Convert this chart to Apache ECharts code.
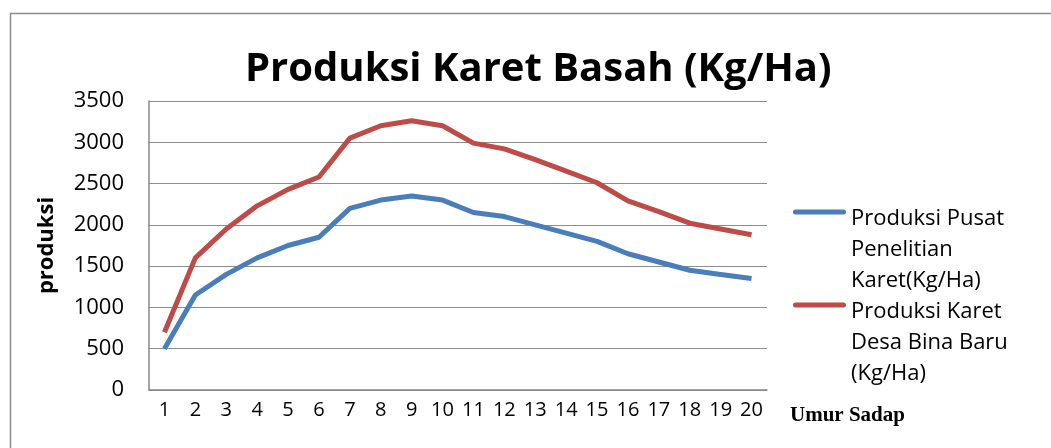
<!DOCTYPE html>
<html>
<head>
<meta charset="utf-8">
<script src="https://cdn.jsdelivr.net/npm/echarts@6/dist/echarts.min.js"></script>
<style>
  html, body { margin: 0; padding: 0; background: #fff; }
  #chart { width: 1051px; height: 448px; }
</style>
</head>
<body>
<div id="chart"></div>
<script>
const umurSadap = ['1', '2', '3', '4', '5', '6', '7', '8', '9', '10', '11', '12', '13', '14', '15', '16', '17', '18', '19', '20']
const pusatPenelitian = [500, 1150, 1400, 1600, 1750, 1850, 2200, 2300, 2350, 2300, 2150, 2100, 2000, 1900, 1800, 1650, 1550, 1450, 1400, 1350]
const desaBinaBaru = [700, 1600, 1950, 2230, 2430, 2580, 3050, 3200, 3260, 3200, 2990, 2920, 2790, 2650, 2510, 2290, 2160, 2020, 1950, 1880]
const seriesNames = ['Produksi Pusat Penelitian Karet(Kg/Ha)', 'Produksi Karet Desa Bina Baru (Kg/Ha)']
const legendLines = {
  'Produksi Pusat Penelitian Karet(Kg/Ha)': 'Produksi Pusat\nPenelitian\nKaret(Kg/Ha)',
  'Produksi Karet Desa Bina Baru (Kg/Ha)': 'Produksi Karet\nDesa Bina Baru\n(Kg/Ha)'
}

const font = '"Open Sans", "Noto Sans", sans-serif'
const chart = echarts.init(document.getElementById('chart'))

// legend icon: line sits on the first text line, box spans all three lines
const iconPath = 'path://M2.5,13H50.5A2.5,2.5 0 0 1 50.5,18H2.5A2.5,2.5 0 0 1 2.5,13Z M0,93H0.01V93.01H0Z'

chart.setOption({
  animation: false,
  title: {
    text: 'Produksi Karet Basah (Kg/Ha)',
    left: 240,
    top: 45,
    textStyle: { fontFamily: font, fontWeight: 'bold', fontSize: 40, color: '#000' }
  },
  legend: {
    orient: 'vertical',
    left: 788,
    top: 198,
    itemGap: 0,
    itemWidth: 53,
    itemHeight: 93,
    icon: iconPath,
    formatter: (name) => legendLines[name],
    textStyle: { fontFamily: font, fontSize: 22, lineHeight: 31, color: '#000' }
  },
  grid: { left: 149, top: 101, right: 284, bottom: 58 },
  xAxis: {
    type: 'category',
    data: umurSadap,
    name: 'Umur Sadap',
    nameLocation: 'end',
    nameGap: 23,
    nameTextStyle: {
      fontFamily: '"Liberation Serif", serif',
      fontWeight: 'bold',
      fontSize: 21,
      color: '#000',
      verticalAlign: 'top',
      padding: [15, 0, 0, 0]
    },
    axisLine: { lineStyle: { color: '#888', width: 1.5 } },
    axisTick: { show: false },
    axisLabel: { fontFamily: font, fontSize: 20, color: '#000', margin: 10, interval: 0 }
  },
  yAxis: {
    type: 'value',
    min: 0,
    max: 3500,
    interval: 500,
    name: 'produksi',
    nameLocation: 'middle',
    nameGap: 91,
    nameTextStyle: { fontFamily: font, fontWeight: 'bold', fontSize: 22, color: '#000' },
    axisLine: { show: true, lineStyle: { color: '#888', width: 1.5 } },
    axisTick: { show: false },
    axisLabel: { fontFamily: font, fontSize: 22, color: '#000', margin: 25, formatter: (v) => String(v) },
    splitLine: { lineStyle: { color: '#8c8c8c', width: 1 } }
  },
  series: [
    {
      name: seriesNames[0],
      type: 'line',
      data: pusatPenelitian,
      symbol: 'none',
      color: '#4a7ebb',
      lineStyle: { width: 5, color: '#4a7ebb' }
    },
    {
      name: seriesNames[1],
      type: 'line',
      data: desaBinaBaru,
      symbol: 'none',
      color: '#be4b48',
      lineStyle: { width: 5, color: '#be4b48' }
    }
  ],
  graphic: [
    {
      type: 'rect',
      shape: { x: 10.5, y: 13.5, width: 1100, height: 500 },
      style: { fill: 'none', stroke: '#8c8c8c', lineWidth: 1.5 },
      silent: true
    }
  ]
})
</script>
</body>
</html>
